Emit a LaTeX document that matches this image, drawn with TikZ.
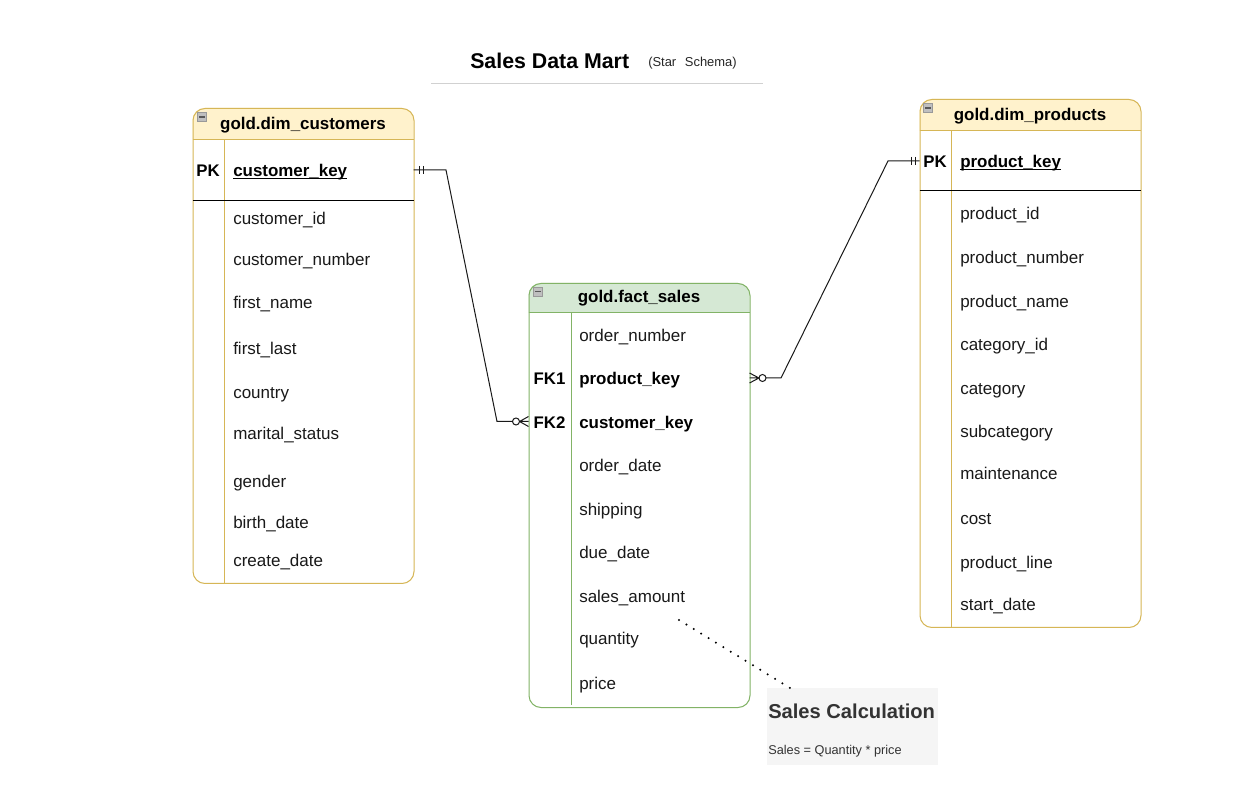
\documentclass[tikz,border=0pt]{standalone}
\usepackage{fontspec}
\setmainfont{Liberation Sans}
\definecolor{yelFill}{HTML}{FFF2CC}
\definecolor{yelLine}{HTML}{D6B656}
\definecolor{grnFill}{HTML}{D5E8D4}
\definecolor{grnLine}{HTML}{82B366}
\definecolor{noteFill}{HTML}{F5F5F5}
\definecolor{noteText}{HTML}{333333}
\newsavebox{\ulbox}
\newcommand{\keyul}[1]{\sbox{\ulbox}{#1}\rlap{\rule[-2.1pt]{\wd\ulbox}{0.8pt}}\usebox{\ulbox}}
\tikzset{
  x=0.75pt,y=-0.75pt,
  tablebox/.style={draw=#1,line width=0.75pt,rounded corners=9pt,rectangle,inner sep=0pt,anchor=north west},
  tabletitle/.style={font=\fontsize{12.7}{14}\selectfont\bfseries,inner sep=0pt,anchor=center,yshift=-1.2pt},
  fieldname/.style={font=\fontsize{12.75}{15}\selectfont,inner sep=0pt,anchor=mid west,text=black!90,yshift=-2.25pt},
  keyname/.style={font=\fontsize{12.7}{15}\selectfont\bfseries,inner sep=0pt,anchor=mid west,yshift=-2.25pt},
  keytag/.style={font=\fontsize{12.6}{15}\selectfont\bfseries,inner sep=0pt,anchor=mid,yshift=-2.25pt},
  rel/.style={draw=black!90,line width=0.75pt},
  iconbox/.style={draw=black!40,fill=black!25,minimum width=7pt,minimum height=7pt,inner sep=0pt},
}
\newcommand{\minusicon}[2]{\node[iconbox] at (#1,#2) {}; \draw[black!65,line width=0.9pt] (#1-3,#2) -- (#1+3,#2);}
\begin{document}
\begin{tikzpicture}
\useasboundingbox (0,0) rectangle (1240,791);
\fill[white] (0,0) rectangle (1240,791);

% title
\node[font=\fontsize{16}{18}\selectfont\bfseries,inner sep=0pt,anchor=mid west,yshift=-3pt] (title) at (470,61) {Sales Data Mart};
\node[font=\fontsize{9.7}{12}\selectfont,inner sep=0pt,anchor=mid west,text=black!85,yshift=-1.5pt] (subtitle) at (648,61) {(Star\hspace{6.5pt}Schema)};
\draw[black!18,line width=1pt] (431,83.5) -- (763,83.5);

% customers table
\fill[yelFill] (192.5,139.5) [rounded corners=9pt] -- (192.5,108) -- (413.5,108) [sharp corners] -- (413.5,139.5) -- cycle;
\node[tablebox=yelLine,minimum width=165.75pt,minimum height=356.25pt] (customers) at (192.5,108) {};
\draw[yelLine,line width=0.75pt] (192.5,139.5) -- (413.5,139.5);
\draw[yelLine,line width=0.75pt] (224.5,139.5) -- (224.5,583);
\draw[black,line width=0.9pt] (192.5,200.5) -- (413.5,200.5);
\minusicon{202}{117}
\node[tabletitle] (custTitle) at (303,124) {gold.dim\_customers};
\node[keytag] (custPK) at (208,170) {PK};
\node[keyname] (custKey) at (233,170) {\keyul{customer\_key}};
\node[fieldname] (c1) at (233,218) {customer\_id};
\node[fieldname] (c2) at (233,259) {customer\_number};
\node[fieldname] (c3) at (233,302) {first\_name};
\node[fieldname] (c4) at (233,348) {first\_last};
\node[fieldname] (c5) at (233,392) {country};
\node[fieldname] (c6) at (233,433) {marital\_status};
\node[fieldname] (c7) at (233,481) {gender};
\node[fieldname] (c8) at (233,522) {birth\_date};
\node[fieldname] (c9) at (233,560) {create\_date};

% products table
\fill[yelFill] (919.5,131) [rounded corners=9pt] -- (919.5,99) -- (1140.5,99) [sharp corners] -- (1140.5,131) -- cycle;
\node[tablebox=yelLine,minimum width=165.75pt,minimum height=396pt] (products) at (919.5,99) {};
\draw[yelLine,line width=0.75pt] (919.5,131) -- (1140.5,131);
\draw[yelLine,line width=0.75pt] (951.5,131) -- (951.5,627);
\draw[black,line width=0.9pt] (919.5,190.5) -- (1140.5,190.5);
\minusicon{928}{108}
\node[tabletitle] (prodTitle) at (1030,115) {gold.dim\_products};
\node[keytag] (prodPK) at (935,161) {PK};
\node[keyname] (prodKey) at (960,161) {\keyul{product\_key}};
\node[fieldname] (p1) at (960,213) {product\_id};
\node[fieldname] (p2) at (960,257) {product\_number};
\node[fieldname] (p3) at (960,301) {product\_name};
\node[fieldname] (p4) at (960,344) {category\_id};
\node[fieldname] (p5) at (960,388) {category};
\node[fieldname] (p6) at (960,431) {subcategory};
\node[fieldname] (p7) at (960,473) {maintenance};
\node[fieldname] (p8) at (960,518) {cost};
\node[fieldname] (p9) at (960,562) {product\_line};
\node[fieldname] (p10) at (960,604) {start\_date};

% fact table
\fill[grnFill] (528.5,313) [rounded corners=9pt] -- (528.5,283) -- (749.5,283) [sharp corners] -- (749.5,313) -- cycle;
\node[tablebox=grnLine,minimum width=165.75pt,minimum height=318pt] (fact) at (528.5,283) {};
\draw[grnLine,line width=0.75pt] (528.5,313) -- (749.5,313);
\draw[grnLine,line width=0.75pt] (571.5,313) -- (571.5,705);
\minusicon{538}{291.5}
\node[tabletitle] (factTitle) at (639,297) {gold.fact\_sales};
\node[fieldname] (f1) at (579,335) {order\_number};
\node[keytag] (factFK1) at (549.5,378) {FK1};
\node[keyname] (f2) at (579,378) {product\_key};
\node[keytag] (factFK2) at (549.5,422) {FK2};
\node[keyname] (f3) at (579,422) {customer\_key};
\node[fieldname] (f4) at (579,465) {order\_date};
\node[fieldname] (f5) at (579,509) {shipping};
\node[fieldname] (f6) at (579,552) {due\_date};
\node[fieldname] (f7) at (579,596) {sales\_amount};
\node[fieldname] (f8) at (579,638) {quantity};
\node[fieldname] (f9) at (579,683) {price};

% note
\node[fill=noteFill,rectangle,inner sep=0pt,minimum width=128.25pt,minimum height=57.75pt,anchor=north west] (note) at (767,688) {};
\node[font=\fontsize{15.1}{18}\selectfont\bfseries,text=noteText,inner sep=0pt,anchor=mid west,yshift=-2.6pt] (noteHead) at (768,712) {Sales Calculation};
\node[font=\fontsize{9.55}{11}\selectfont,text=noteText,inner sep=0pt,anchor=mid west,yshift=-1pt] (noteBody) at (768,750) {Sales = Quantity * price};

% connector ends
\coordinate (custEnd) at (413.5,170);
\coordinate (fk2End) at (528.5,421.5);
\coordinate (prodEnd) at (919.5,161);
\coordinate (fk1End) at (749.5,378);
\coordinate (noteSrc) at (679,620);
\coordinate (noteEnd) at (790,688);

% customers -- fact
\draw[rel] (custEnd) -- (446,170) -- (497,421.5) -- (512.5,421.5);
\draw[rel] (419,166) -- (419,174) (423,166) -- (423,174);
\draw[rel] (516,421.5) circle[radius=3.5];
\draw[rel] (519.5,421.5) -- (fk2End) (519.5,421.5) -- (528.5,416.5) (519.5,421.5) -- (528.5,426.5);

% products -- fact
\draw[rel] (prodEnd) -- (888,161) -- (781,378) -- (766,378);
\draw[rel] (911,157) -- (911,165) (915,157) -- (915,165);
\draw[rel] (762.5,378) circle[radius=3.5];
\draw[rel] (759,378) -- (fk1End) (759,378) -- (749.5,373) (759,378) -- (749.5,383);

% note connector
\draw[black,line width=1.7pt,line cap=round,dash pattern=on 0pt off 6.5pt] (noteSrc) -- (noteEnd);
\end{tikzpicture}
\end{document}
